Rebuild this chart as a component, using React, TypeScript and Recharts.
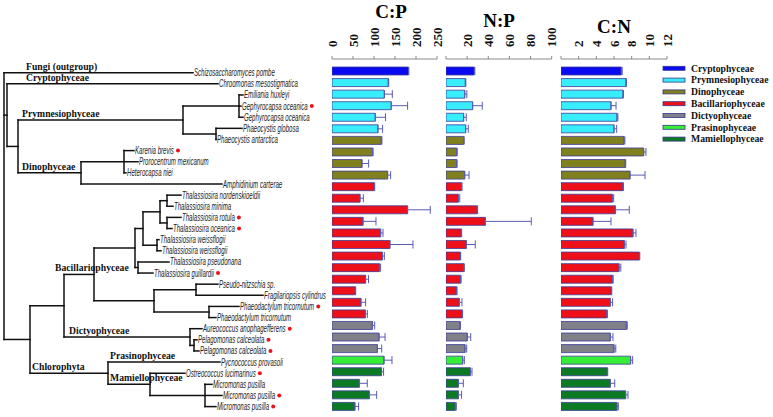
import {
  Bar,
  BarChart,
  Cell,
  ComposedChart,
  ErrorBar,
  ReferenceLine,
  Scatter,
  XAxis,
  YAxis,
} from "recharts";

// ---- tree leaves (top to bottom) ----
const species = [
  "Schizosaccharomyces pombe",
  "Chroomonas mesostigmatica",
  "Emiliania huxleyi",
  "Gephyrocapsa oceanica",
  "Gephyrocapsa oceanica",
  "Phaeocystis globosa",
  "Phaeocystis antarctica",
  "Karenia brevis",
  "Prorocentrum mexicanum",
  "Heterocapsa niei",
  "Amphidinium carterae",
  "Thalassiosira nordenskioeldii",
  "Thalassiosira minima",
  "Thalassiosira rotula",
  "Thalassiosira oceanica",
  "Thalassiosira weissflogii",
  "Thalassiosira weissflogii",
  "Thalassiosira pseudonana",
  "Thalassiosira guillardii",
  "Pseudo-nitzschia sp.",
  "Fragilariopsis cylindrus",
  "Phaeodactylum tricornutum",
  "Phaeodactylum tricornutum",
  "Aureococcus anophagefferens",
  "Pelagomonas calceolata",
  "Pelagomonas calceolata",
  "Pycnococcus provasoli",
  "Ostreococcus lucimarinus",
  "Micromonas pusilla",
  "Micromonas pusilla",
  "Micromonas pusilla",
];
const markedLeaves = [3, 7, 13, 14, 18, 21, 23, 24, 25, 27, 29, 30];
const leafX = [
  193, 218, 243, 241, 243, 242, 216, 134, 138, 126, 222, 181, 173, 181, 172, 159, 161, 169, 153,
  218, 263, 239, 216, 202, 197, 199, 220, 185, 212, 222, 216,
];
const leafParent = [
  0, 1, 4, 4, 4, 5, 5, 7, 7, 7, 6, 14, 14, 15, 15, 16, 16, 17, 17, 19, 19, 20, 20, 21, 22, 22, 23,
  24, 25, 25, 25,
];
// internal nodes
const nodeX = [
  4, 7, 18, 183, 239, 216, 81, 124, 30, 64, 94, 135, 143, 160, 167, 167, 157, 138, 154, 196, 209,
  190, 194, 108, 150, 205,
];
const nodeParent = [
  -1, 0, 1, 2, 3, 3, 2, 6, 0, 8, 9, 10, 11, 12, 13, 13, 12, 11, 10, 18, 18, 9, 21, 8, 23, 24,
];

const cladeNames = [
  "Fungi (outgroup)",
  "Cryptophyceae",
  "Prymnesiophyceae",
  "Dinophyceae",
  "Bacillariophyceae",
  "Dictyophyceae",
  "Chlorophyta",
  "Prasinophyceae",
  "Mamiellophyceae",
];
const cladeBranch = ["L0", "L1", "N3", "N6", "N10", "N21", "N23", "L26", "N24"];
const cladeLabelX = [26, 26, 22, 22, 55, 69, 32, 110, 110];

// ---- bar groups ----
const groups = [
  "Cryptophyceae",
  "Prymnesiophyceae",
  "Dinophyceae",
  "Bacillariophyceae",
  "Dictyophyceae",
  "Prasinophyceae",
  "Mamiellophyceae",
];
const groupColors = ["#0a0af0", "#38eefc", "#80801e", "#ee1018", "#808088", "#36ee36", "#0c7a22"];
const rowGroup = [
  0, 1, 1, 1, 1, 1, 2, 2, 2, 2, 3, 3, 3, 3, 3, 3, 3, 3, 3, 3, 3, 3, 4, 4, 4, 5, 6, 6, 6, 6,
];

const cpVal = [
  182, 134, 124.6, 141, 103, 109.4, 117.4, 96.7, 71.4, 132.5, 100.7, 66.7, 180, 73.8, 115.9, 138,
  119.8, 112.7, 80, 55.5, 69, 79.4, 96, 112, 108, 123.8, 118, 65, 88.8, 54.6,
];
const cpErr = [
  1, 1, 19, 39, 24.6, 11, 1.5, 1, 15.8, 7.1, 1, 8, 54, 30.9, 5.5, 54.8, 4.8, 3, 7, 1, 11, 4.8, 5.6,
  14.3, 10.3, 19, 4.8, 19, 17.5, 8.7,
];
const npVal = [
  26.8, 18.3, 17.7, 25.2, 16.7, 18.6, 16.7, 10.1, 10.1, 17.7, 14.8, 11.7, 29.6, 37.2, 14.5, 19.2,
  13.6, 17.0, 13.9, 10.1, 12.6, 15.4, 13.2, 20.2, 18, 15.8, 23, 11.7, 11.7, 8.8,
];
const npErr = [
  0.5, 0.5, 2, 9.1, 2.5, 2.5, 0.5, 0.5, 0.3, 4.1, 0.3, 1.3, 0.3, 43.5, 0.3, 8.5, 0.3, 0.2, 0.3, 0.2,
  2.5, 0.3, 0.5, 3.2, 1.6, 1.6, 1.6, 4.7, 3, 1,
];
const cnVal = [
  6.83, 7.36, 7.02, 5.66, 6.34, 6.0, 7.13, 9.36, 7.28, 7.81, 7.02, 5.81, 6.15, 3.62, 8.15, 7.17,
  8.87, 6.57, 5.85, 5.7, 5.58, 5.2, 7.4, 5.58, 6.0, 7.88, 5.24, 5.58, 7.32, 6.34,
];
const cnErr = [
  0.1, 0.05, 0.05, 0.57, 0.1, 0.3, 0.1, 0.26, 0.05, 1.7, 0.05, 0.15, 1.58, 2.04, 0.34, 0.19, 0.05,
  0.2, 0.05, 0.05, 0.26, 0.05, 0.1, 0.3, 0.2, 0.23, 0.05, 0.5, 0.26, 0.15,
];

const cpTicks = [0, 50, 100, 150, 200, 250];
const npTicks = [0, 20, 40, 60, 80, 100];
const cnTicks = [0, 2, 4, 6, 8, 10, 12];

const SERIF = "'Liberation Serif', 'Times New Roman', serif";
const SANS = "'Liberation Sans', Arial, sans-serif";
const NARROW = 0.61;

const rows = cpVal.map((v, i) => ({
  row: `r${i}`,
  cp: v,
  cpE: [0, cpErr[i]],
  np: npVal[i],
  npE: [0, npErr[i]],
  cn: cnVal[i],
  cnE: [0, cnErr[i]],
}));

// ---- tree geometry (x: branch position, y: leaf row) ----
function childYs(k: number): number[] {
  const ys: number[] = [];
  leafParent.forEach((p, i) => p === k && ys.push(i));
  nodeParent.forEach((p, j) => p === k && ys.push(nodeY(j)));
  return ys;
}
const nodeYCache: number[] = [];
function nodeY(k: number): number {
  if (nodeYCache[k] === undefined) {
    const ys = childYs(k);
    nodeYCache[k] = (Math.min(...ys) + Math.max(...ys)) / 2;
  }
  return nodeYCache[k];
}

const segments: { x: number; y: number }[][] = [];
nodeX.forEach((x, k) => {
  const ys = childYs(k);
  segments.push([
    { x, y: Math.min(...ys) },
    { x, y: Math.max(...ys) },
  ]);
  if (nodeParent[k] >= 0) {
    segments.push([
      { x: nodeX[nodeParent[k]], y: nodeY(k) },
      { x, y: nodeY(k) },
    ]);
  }
});
leafParent.forEach((p, i) =>
  segments.push([
    { x: nodeX[p], y: i },
    { x: leafX[i], y: i },
  ])
);

const leaves = species.map((name, i) => ({
  x: leafX[i],
  y: i,
  name,
  marked: markedLeaves.includes(i),
}));
const clades = cladeNames.map((name, i) => {
  const b = cladeBranch[i];
  const idx = Number(b.slice(1));
  return { x: cladeLabelX[i], y: b[0] === "L" ? idx : nodeY(idx), name };
});

const measureCtx =
  typeof document !== "undefined" ? document.createElement("canvas").getContext("2d") : null;
function textWidth(s: string, font: string) {
  if (!measureCtx) return s.length * 5;
  measureCtx.font = font;
  return measureCtx.measureText(s).width;
}

const SpeciesLabel = (props: any) => {
  const { cx, cy, payload } = props;
  const w = textWidth(payload.name, `italic 10px ${SANS}`) * NARROW;
  return (
    <g>
      <text
        transform={`translate(${cx + 1},${cy}) scale(${NARROW},1)`}
        dy="0.35em"
        fontFamily={SANS}
        fontStyle="italic"
        fontSize={10}
        fill="#222"
      >
        {payload.name}
      </text>
      {payload.marked && <circle cx={cx + w + 5} cy={cy} r={2} fill="#e8141c" />}
    </g>
  );
};

const CladeLabel = (props: any) => {
  const { cx, cy, payload } = props;
  return (
    <text x={cx} y={cy - 3} fontFamily={SERIF} fontWeight="bold" fontSize={9.7} fill="#111">
      {payload.name}
    </text>
  );
};

function TreePanel() {
  return (
    <div style={{ position: "absolute", left: 0, top: 0 }}>
      <ComposedChart width={330} height={417} margin={{ top: 72.7, right: 0, bottom: 10.4, left: 0 }}>
        <XAxis type="number" dataKey="x" domain={[0, 330]} hide />
        <YAxis type="number" dataKey="y" domain={[0, 30]} reversed hide />
        {segments.map((s, i) => (
          <ReferenceLine key={i} segment={s} stroke="#111" strokeWidth={1.5} strokeLinecap="square" />
        ))}
        <Scatter data={leaves} shape={SpeciesLabel} isAnimationActive={false} />
        <Scatter data={clades} shape={CladeLabel} isAnimationActive={false} />
      </ComposedChart>
    </div>
  );
}

function RatioPanel(props: {
  dataKey: string;
  errKey: string;
  ticks: number[];
  hideZero: boolean;
  plotLeft: number;
  plotRight: number;
}) {
  const { dataKey, errKey, ticks, hideZero, plotLeft, plotRight } = props;
  const pad = 14;
  const renderTick = (p: any) => {
    const { x, y, payload } = p;
    if (hideZero && payload.value === 0) return <g />;
    return (
      <text
        x={x}
        y={y}
        transform={`rotate(-90 ${x} ${y})`}
        textAnchor="start"
        dy="0.35em"
        fontFamily={SERIF}
        fontWeight="bold"
        fontSize={13}
        fill="#111"
      >
        {payload.value}
      </text>
    );
  };
  return (
    <div style={{ position: "absolute", left: plotLeft - pad, top: 0 }}>
      <BarChart
        width={plotRight - plotLeft + pad * 2}
        height={417}
        data={rows}
        layout="vertical"
        margin={{ top: 19, right: pad, bottom: 4, left: pad }}
      >
        <XAxis
          type="number"
          orientation="top"
          domain={[ticks[0], ticks[ticks.length - 1]]}
          ticks={ticks}
          interval={0}
          height={40}
          tickSize={3}
          tickMargin={9}
          axisLine={{ stroke: "#8a8a8a" }}
          tickLine={{ stroke: "#8a8a8a" }}
          tick={renderTick}
          allowDataOverflow
        />
        <YAxis
          type="category"
          dataKey="row"
          width={0}
          tick={false}
          tickLine={false}
          axisLine={{ stroke: "#aaaaaa", strokeWidth: 1.5 }}
          padding={{ top: 6, bottom: 1 }}
        />
        <Bar dataKey={dataKey} barSize={8} stroke="#3b3b9c" strokeWidth={0.8} isAnimationActive={false}>
          {rows.map((r, i) => (
            <Cell key={r.row} fill={groupColors[rowGroup[i]]} />
          ))}
          <ErrorBar
            dataKey={errKey}
            direction="x"
            width={4}
            stroke="#5a5ab4"
            strokeWidth={1}
            isAnimationActive={false}
          />
        </Bar>
      </BarChart>
    </div>
  );
}

function Overlay() {
  return (
    <svg
      width={773}
      height={417}
      style={{ position: "absolute", left: 0, top: 0, pointerEvents: "none" }}
    >
      <text x={391} y={18.3} textAnchor="middle" fontFamily={SERIF} fontWeight="bold" fontSize={19}>
        C:P
      </text>
      <text x={499} y={27.3} textAnchor="middle" fontFamily={SERIF} fontWeight="bold" fontSize={19}>
        N:P
      </text>
      <text x={614} y={33.3} textAnchor="middle" fontFamily={SERIF} fontWeight="bold" fontSize={19}>
        C:N
      </text>
      {groups.map((g, k) => {
        const cy = 68.3 + k * 11.8;
        return (
          <g key={g}>
            <rect x={663} y={cy - 2} width={22} height={4} fill={groupColors[k]} stroke="#35358a" strokeWidth={0.8} />
            <text x={691} y={cy + 3.3} fontFamily={SERIF} fontWeight="bold" fontSize={9.7} fill="#111">
              {g}
            </text>
          </g>
        );
      })}
    </svg>
  );
}

export default function App() {
  return (
    <div style={{ position: "absolute", left: 0, top: 0, width: 773, height: 417, background: "#fff" }}>
      <TreePanel />
      <RatioPanel dataKey="cp" errKey="cpE" ticks={cpTicks} hideZero={false} plotLeft={331.7} plotRight={436.7} />
      <RatioPanel dataKey="np" errKey="npE" ticks={npTicks} hideZero plotLeft={446} plotRight={551.7} />
      <RatioPanel dataKey="cn" errKey="cnE" ticks={cnTicks} hideZero plotLeft={560.7} plotRight={666.7} />
      <Overlay />
    </div>
  );
}
